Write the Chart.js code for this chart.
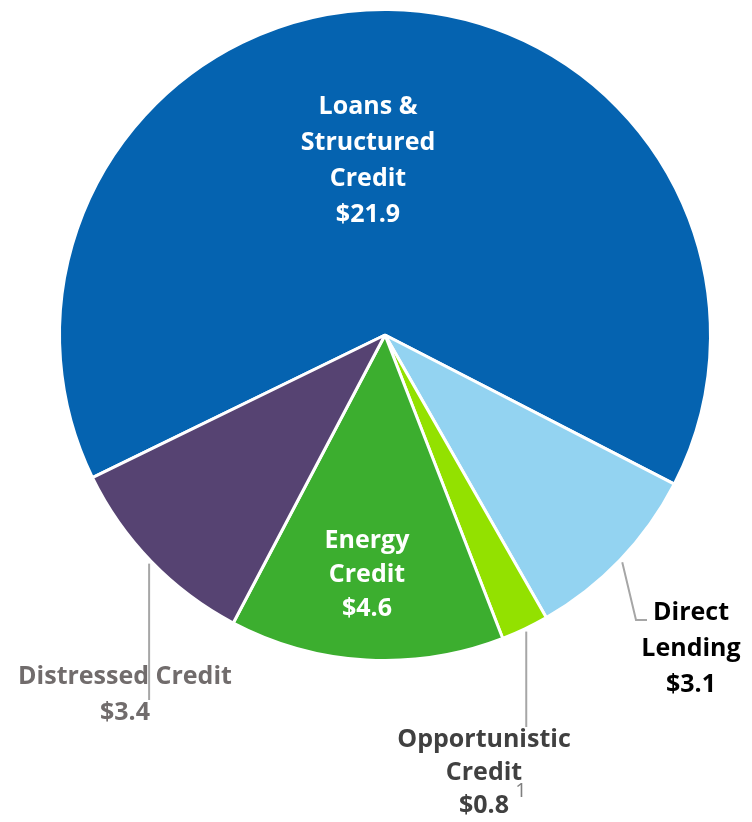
<!DOCTYPE html>
<html>
<head>
<meta charset="utf-8">
<script src="https://cdn.jsdelivr.net/npm/chart.js@4"></script>
<style>
  html, body { margin: 0; padding: 0; background: #fff; }
  #wrap { width: 752px; height: 822px; position: relative; }
</style>
</head>
<body>
<div id="wrap"><canvas id="chart-1"></canvas></div>
<script>
// data ($ billions)
const categories = ['Loans & Structured Credit', 'Direct Lending', 'Opportunistic Credit', 'Energy Credit', 'Distressed Credit'];
const values = [21.9, 3.1, 0.8, 4.6, 3.4];
const valueLabels = ['$21.9', '$3.1', '$0.8', '$4.6', '$3.4'];
const labelLines = [
  ['Loans &', 'Structured', 'Credit'],
  ['Direct', 'Lending'],
  ['Opportunistic', 'Credit'],
  ['Energy', 'Credit'],
  ['Distressed Credit']
];
const colors = ['#0563B0', '#93D3F1', '#93E100', '#3CAE2F', '#564372'];

const FONT = '"Open Sans", "Noto Sans", sans-serif';

// label layout (text anchor x, first line y, line step, colour)
const labelStyle = [
  { x: 368, y: 107, step: 36, color: '#ffffff' },
  { x: 691, y: 613, step: 36, color: '#000000' },
  { x: 484, y: 740, step: 33, color: '#404040' },
  { x: 367, y: 541, step: 34, color: '#ffffff' },
  { x: 125, y: 677, step: 36, color: '#716C6C' }
];

const labelPlugin = {
  id: 'pieLabels',
  afterDraw(chart) {
    const c = chart.ctx;
    const arcs = chart.getDatasetMeta(0).data;
    c.save();

    // leader lines from the middle of the small slices
    c.strokeStyle = '#A6A6A6';
    c.lineWidth = 2;
    const leader = (i, pts) => {
      const a = arcs[i];
      const mid = (a.startAngle + a.endAngle) / 2;
      const r = a.outerRadius + 3;
      c.beginPath();
      c.moveTo(a.x + Math.cos(mid) * r, a.y + Math.sin(mid) * r);
      pts.forEach(p => c.lineTo(p[0], p[1]));
      c.stroke();
    };
    leader(1, [[636, 620], [647, 620]]);
    {
      const a = arcs[2];
      const mid = (a.startAngle + a.endAngle) / 2;
      const x = a.x + Math.cos(mid) * (a.outerRadius + 3);
      leader(2, [[x, 727]]);
    }
    {
      const a = arcs[4];
      const mid = (a.startAngle + a.endAngle) / 2;
      const x = a.x + Math.cos(mid) * (a.outerRadius + 3);
      leader(4, [[x, 700]]);
    }

    c.textAlign = 'center';
    c.textBaseline = 'middle';
    c.font = 'bold 25px ' + FONT;
    labelLines.forEach((lines, i) => {
      const s = labelStyle[i];
      c.fillStyle = s.color;
      const all = lines.concat([valueLabels[i]]);
      all.forEach((t, k) => {
        c.fillText(t, s.x, s.y + k * s.step);
      });
    });

    // footnote marker
    c.font = '20px ' + FONT;
    c.fillStyle = '#7F7F7F';
    c.fillText('1', 521, 791);
    c.restore();
  }
};

const ctx1 = document.getElementById('chart-1').getContext('2d');
const chart1 = new Chart(ctx1, {
  type: 'pie',
  data: {
    labels: categories,
    datasets: [{
      data: values,
      backgroundColor: colors,
      borderColor: '#ffffff',
      borderWidth: 3
    }]
  },
  options: {
    responsive: true,
    maintainAspectRatio: false,
    animation: false,
    rotation: 244,
    layout: { padding: { left: 58, right: 40, top: 8, bottom: 160 } },
    plugins: {
      legend: { display: false },
      tooltip: { enabled: false }
    }
  },
  plugins: [labelPlugin]
});
</script>
</body>
</html>
